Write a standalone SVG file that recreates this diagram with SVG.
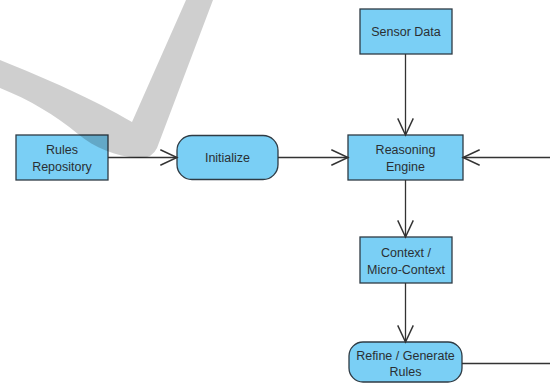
<svg xmlns="http://www.w3.org/2000/svg" width="550" height="385" viewBox="0 0 550 385">
<defs>
<style>
.box{fill:#7acff5;stroke:#2f3b44;stroke-width:1.3}
.t{font-family:"Liberation Sans",Arial,sans-serif;font-size:12.5px;fill:#2a2f33;text-anchor:middle}
.c{fill:none;stroke:#333;stroke-width:1.3}
</style>
<marker id="ah" markerUnits="userSpaceOnUse" markerWidth="20" markerHeight="20" viewBox="-16 -8 18 16" refX="0" refY="0" orient="auto">
<path d="M-15,-7 L0,0 L-15,7" fill="none" stroke="#333" stroke-width="1.3"/>
</marker>
</defs>
<rect width="550" height="385" fill="#fff"/>
<g id="rules"><rect class="box" x="16" y="135" width="92" height="45"/><text class="t" x="62" y="153.5">Rules</text><text class="t" x="62" y="170.5">Repository</text></g>
<g id="initialize"><rect class="box" x="177" y="135.5" width="101" height="44" rx="15"/><text class="t" x="227.5" y="162">Initialize</text></g>
<g id="sensor"><rect class="box" x="360" y="9" width="92" height="45"/><text class="t" x="406" y="36">Sensor Data</text></g>
<g id="reasoning"><rect class="box" x="348" y="135" width="115" height="45"/><text class="t" x="405.5" y="153.5">Reasoning</text><text class="t" x="405.5" y="170.5">Engine</text></g>
<g id="context"><rect class="box" x="360" y="237" width="92" height="46"/><text class="t" x="406" y="256.5">Context /</text><text class="t" x="406" y="273.5">Micro-Context</text></g>
<g id="refine"><rect class="box" x="349" y="342" width="113" height="40" rx="14"/><text class="t" x="405.5" y="359.5">Refine / Generate</text><text class="t" x="405.5" y="376">Rules</text></g>
<g id="connectors">
<path class="c" d="M108,157.5 H177" marker-end="url(#ah)"/>
<path class="c" d="M278,157.5 H348" marker-end="url(#ah)"/>
<path class="c" d="M405.5,54 V135" marker-end="url(#ah)"/>
<path class="c" d="M550,157.5 H463" marker-end="url(#ah)"/>
<path class="c" d="M405.5,180 V237" marker-end="url(#ah)"/>
<path class="c" d="M405.5,283 V342" marker-end="url(#ah)"/>
<path class="c" d="M462,363.5 H550"/>
</g>
<path id="watermark" d="M186,0 L213,0 L157,148 Q152,159 138,158 C115,156 95,148 78,134 C55,115 30,100 0,88 L0,60 C45,78 95,100 132,122 Z" fill="#000" fill-opacity="0.19"/>
</svg>
